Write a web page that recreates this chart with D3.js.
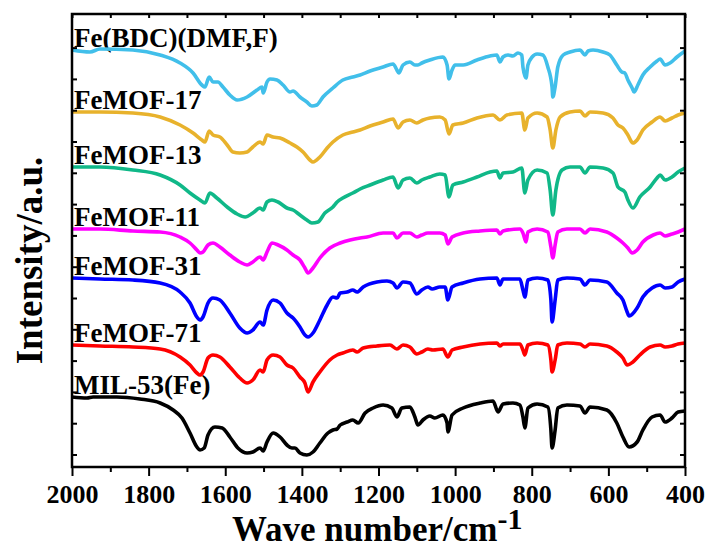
<!DOCTYPE html>
<meta charset="utf-8">
<script src="https://d3js.org/d3.v7.min.js"></script>
<style>
  body { margin: 0; background: #fff; }
  text { font-family: "Liberation Serif", "Times New Roman", serif; font-weight: bold; }
</style>
<svg id="chart" width="712" height="549"></svg>

<script>
  const width = 712;
  const height = 549;
  const margin = { top: 14, right: 27, bottom: 82, left: 72 };

  // IR spectra, [wave number (cm-1), intensity (a.u., stacked)]
  const feBDC = [[2000,41.7],[1953,41.5],[1927,41.8],[1841,41.7],[1770,41.2],[1718,40.4],[1684,39.4],[1661,38.2],[1653,38.0],[1642,39.0],[1632,38.5],[1619,38.5],[1606,38.0],[1588,37.2],[1569,36.7],[1543,37.0],[1517,37.7],[1504,38.0],[1501,37.4],[1491,38.5],[1483,38.8],[1465,38.7],[1449,38.2],[1431,37.5],[1423,37.6],[1405,37.0],[1387,36.5],[1374,36.1],[1361,36.2],[1345,37.0],[1319,37.9],[1293,38.7],[1267,39.0],[1248,39.2],[1222,39.6],[1188,40.0],[1162,40.3],[1152,39.7],[1147,39.4],[1136,40.2],[1118,40.5],[1105,40.2],[1097,40.2],[1087,40.4],[1066,40.7],[1032,41.0],[1021,40.2],[1016,38.8],[1008,39.7],[1000,40.2],[979,40.2],[943,40.7],[909,41.1],[891,41.2],[883,40.5],[875,41.0],[862,41.2],[849,41.1],[836,41.4],[826,41.2],[823,40.0],[815,38.9],[810,40.2],[799,41.0],[786,41.3],[771,41.2],[758,40.0],[747,38.0],[745,37.0],[739,38.0],[732,40.0],[718,41.2],[700,41.5],[674,41.7],[661,41.2],[653,41.6],[640,41.7],[614,41.5],[596,41.2],[578,40.2],[565,39.5],[557,39.4],[549,38.7],[538,37.9],[533,37.5],[523,38.2],[510,39.2],[491,40.0],[473,40.6],[465,40.8],[452,40.2],[439,40.4],[421,41.0],[400,41.6]];

  const feMOF17 = [[2000,35.5],[1927,35.5],[1841,35.4],[1770,35.0],[1718,34.2],[1684,33.4],[1661,32.7],[1653,32.5],[1642,33.6],[1632,33.2],[1614,33.0],[1595,32.2],[1580,31.5],[1562,31.4],[1543,31.5],[1528,32.0],[1509,32.5],[1501,32.3],[1491,33.2],[1475,33.0],[1457,32.9],[1431,32.4],[1413,32.0],[1397,31.5],[1379,30.7],[1371,30.5],[1353,31.0],[1334,31.9],[1319,32.5],[1293,33.2],[1267,33.5],[1248,33.7],[1222,34.1],[1188,34.5],[1162,34.8],[1149,33.9],[1136,34.5],[1118,34.7],[1100,34.4],[1084,34.7],[1066,34.9],[1040,35.0],[1026,34.7],[1016,33.3],[1006,34.2],[979,34.4],[943,34.9],[901,35.2],[883,34.7],[865,35.2],[826,35.4],[818,33.7],[810,34.9],[786,35.4],[760,35.0],[752,33.7],[745,31.9],[737,33.7],[726,35.0],[700,35.5],[674,35.6],[661,35.1],[648,35.5],[614,35.4],[588,34.9],[575,34.2],[562,33.9],[549,33.2],[536,32.4],[525,32.7],[510,33.7],[486,34.5],[465,35.0],[452,34.6],[434,34.9],[418,35.2],[400,35.4]];

  const feMOF13 = [[2000,30.0],[1927,30.0],[1841,29.7],[1770,29.2],[1718,28.2],[1692,27.4],[1666,26.7],[1653,26.4],[1640,27.4],[1622,26.9],[1595,26.0],[1569,25.3],[1548,25.0],[1528,25.4],[1509,25.9],[1501,25.7],[1491,26.5],[1478,26.7],[1462,26.5],[1439,25.9],[1423,25.7],[1405,25.2],[1387,24.7],[1374,24.4],[1358,24.5],[1340,25.4],[1319,26.0],[1308,26.5],[1293,26.9],[1267,27.4],[1248,27.8],[1222,28.2],[1188,28.7],[1162,29.0],[1149,27.9],[1136,28.7],[1118,28.9],[1100,28.4],[1087,28.7],[1066,29.0],[1040,29.3],[1026,29.2],[1016,27.0],[1006,28.2],[979,28.5],[943,29.0],[909,29.5],[891,29.6],[883,28.9],[875,29.4],[849,29.5],[826,29.9],[818,27.4],[810,28.7],[786,29.7],[760,29.4],[752,27.7],[745,25.2],[737,27.7],[721,29.7],[700,30.0],[674,30.0],[661,29.4],[648,30.0],[614,29.9],[588,29.4],[575,28.0],[557,27.5],[549,26.7],[536,25.9],[518,27.0],[491,28.0],[473,28.9],[465,29.2],[452,28.7],[434,29.0],[418,29.5],[400,29.9]];

  const feMOF11 = [[2000,23.8],[1927,23.8],[1841,23.6],[1770,23.5],[1718,23.0],[1692,22.4],[1674,21.7],[1666,21.4],[1658,21.5],[1645,22.2],[1632,22.4],[1614,22.0],[1588,21.2],[1562,20.5],[1543,20.2],[1528,20.5],[1509,21.0],[1501,20.7],[1491,21.5],[1478,22.4],[1462,22.2],[1439,21.7],[1423,21.2],[1405,20.7],[1392,19.9],[1384,19.4],[1371,19.9],[1353,20.9],[1327,21.9],[1300,22.4],[1274,22.7],[1248,22.9],[1230,23.0],[1188,23.4],[1162,23.4],[1152,22.9],[1136,23.4],[1118,23.4],[1100,23.0],[1087,23.2],[1071,23.4],[1040,23.4],[1026,23.2],[1019,22.3],[1008,23.0],[979,23.4],[935,23.6],[891,23.7],[883,23.3],[875,23.6],[831,23.8],[823,23.4],[815,22.5],[810,23.5],[786,23.8],[758,23.5],[750,22.0],[745,20.9],[739,22.2],[732,23.5],[708,23.8],[674,23.8],[661,23.4],[648,23.8],[604,23.5],[578,22.9],[562,22.4],[549,21.9],[538,21.4],[525,21.7],[510,22.5],[483,23.2],[465,23.4],[452,23.1],[434,23.3],[418,23.5],[400,23.8]];

  const feMOF31 = [[2000,18.9],[1927,18.8],[1841,18.7],[1770,18.4],[1718,17.5],[1692,16.4],[1674,15.0],[1666,14.7],[1658,15.0],[1645,16.4],[1632,16.9],[1614,16.7],[1588,15.4],[1562,13.9],[1543,13.4],[1528,13.7],[1509,14.5],[1501,14.2],[1491,15.7],[1475,16.7],[1457,16.4],[1439,15.4],[1423,14.9],[1405,14.0],[1392,13.2],[1384,13.0],[1371,13.4],[1353,14.7],[1334,16.2],[1319,17.0],[1308,16.9],[1300,17.4],[1282,17.5],[1267,17.7],[1256,17.5],[1240,18.0],[1204,18.5],[1178,18.6],[1162,18.4],[1152,17.9],[1136,18.5],[1118,18.4],[1100,17.3],[1087,17.7],[1071,18.0],[1060,17.8],[1040,18.0],[1026,18.0],[1019,16.7],[1008,18.0],[979,18.4],[935,18.8],[891,18.9],[883,18.2],[875,18.8],[831,18.8],[823,17.7],[818,17.0],[810,18.7],[786,18.9],[758,18.7],[750,16.7],[747,14.5],[739,16.7],[732,18.7],[708,18.9],[674,18.8],[661,18.2],[648,18.7],[604,18.5],[578,17.4],[562,16.7],[551,15.5],[546,15.1],[525,15.9],[510,17.0],[486,17.9],[465,18.2],[452,17.9],[434,18.0],[418,18.5],[400,18.8]];

  const feMOF71 = [[2000,12.2],[1927,12.1],[1841,12.0],[1770,11.8],[1718,11.0],[1692,10.2],[1674,9.4],[1666,9.2],[1658,9.5],[1645,10.9],[1632,11.2],[1614,11.0],[1588,10.0],[1562,8.9],[1543,8.4],[1528,8.7],[1509,9.7],[1501,9.5],[1491,10.7],[1475,11.2],[1457,11.0],[1439,10.2],[1423,9.9],[1405,9.0],[1392,8.4],[1384,7.5],[1371,8.5],[1353,9.5],[1327,10.7],[1308,11.2],[1293,11.4],[1267,11.7],[1256,11.5],[1240,11.9],[1204,12.1],[1170,12.2],[1152,11.8],[1136,12.2],[1118,12.0],[1100,11.3],[1087,11.5],[1071,11.8],[1058,11.7],[1032,11.8],[1019,11.0],[1008,11.7],[979,12.0],[935,12.3],[891,12.4],[883,12.1],[875,12.3],[831,12.3],[823,11.7],[818,11.2],[810,12.2],[786,12.4],[758,12.2],[750,10.7],[747,9.5],[739,10.7],[732,12.2],[708,12.4],[674,12.3],[661,12.0],[648,12.3],[604,12.1],[578,11.5],[562,10.9],[551,10.2],[536,10.5],[518,11.2],[491,12.0],[465,12.2],[452,12.0],[434,12.1],[418,12.3],[400,12.4]];

  const mil53 = [[2000,7.0],[1961,6.9],[1945,7.0],[1883,7.0],[1823,6.8],[1770,6.4],[1736,5.7],[1713,4.9],[1692,3.4],[1674,2.0],[1666,1.7],[1655,1.9],[1645,3.2],[1627,4.0],[1608,3.9],[1588,3.0],[1567,1.9],[1543,1.4],[1528,1.5],[1509,1.9],[1501,1.6],[1491,2.5],[1475,3.4],[1457,3.0],[1439,2.2],[1426,1.9],[1418,1.9],[1405,1.4],[1387,1.2],[1371,1.5],[1353,2.4],[1332,3.4],[1319,3.7],[1308,3.8],[1300,4.2],[1282,4.5],[1267,4.7],[1253,4.4],[1235,5.4],[1214,5.9],[1188,6.2],[1165,5.9],[1152,5.0],[1139,5.9],[1118,6.0],[1105,5.0],[1097,4.2],[1084,4.7],[1066,5.1],[1053,4.9],[1032,5.2],[1021,4.4],[1019,3.5],[1008,5.2],[979,5.9],[935,6.4],[901,6.6],[888,5.5],[875,6.3],[849,6.4],[831,6.2],[823,5.0],[818,3.9],[810,5.9],[786,6.3],[758,6.0],[750,3.7],[747,1.9],[739,3.7],[732,5.9],[708,6.2],[674,6.1],[661,5.4],[648,6.0],[604,5.7],[578,4.4],[562,3.0],[546,2.0],[525,2.5],[510,3.7],[486,5.0],[465,5.2],[452,4.5],[434,4.9],[418,5.5],[400,5.6]];

  const seriesNames = ["Fe(BDC)(DMF,F)", "FeMOF-17", "FeMOF-13", "FeMOF-11", "FeMOF-31", "FeMOF-71", "MIL-53(Fe)"];
  const seriesData = [feBDC, feMOF17, feMOF13, feMOF11, feMOF31, feMOF71, mil53];
  const seriesColors = ["#41bfea", "#e8b22c", "#10b888", "#ff00ff", "#0000ff", "#ff0000", "#000000"];

  const xMajorTicks = [2000, 1800, 1600, 1400, 1200, 1000, 800, 600, 400];
  const xMinorTicks = [1900, 1700, 1500, 1300, 1100, 900, 700, 500];

  const svg = d3.select("#chart");

  const x = d3.scaleLinear()
    .domain([2000, 400])
    .range([margin.left, width - margin.right]);

  const y = d3.scaleLinear()
    .domain([0, 45.3])
    .range([height - margin.bottom, margin.top]);

  const yTicks = d3.range(1.25, 44, 3.13);
  const bottomY = height - margin.bottom;

  // sample labels (drawn under the curves)
  svg.append("g")
    .selectAll("text")
    .data(seriesNames)
    .join("text")
    .attr("x", margin.left + 2)
    .attr("y", (d, i) => y(seriesData[i][0][1]) - 3)
    .attr("font-size", 27)
    .text(d => d);

  // spectra
  const line = d3.line()
    .x(d => x(d[0]))
    .y(d => y(d[1]))
    .curve(d3.curveMonotoneX);

  svg.append("g")
    .selectAll("path")
    .data(seriesData)
    .join("path")
    .attr("d", line)
    .attr("fill", "none")
    .attr("stroke", (d, i) => seriesColors[i])
    .attr("stroke-width", 3.6)
    .attr("stroke-linejoin", "round");

  // axes
  const xAxis = svg.append("g")
    .attr("transform", `translate(0,${bottomY})`)
    .call(d3.axisBottom(x).tickValues(xMajorTicks).tickSize(9).tickPadding(9).tickFormat(d3.format("d")));
  xAxis.selectAll("text").attr("font-size", 26).attr("fill", "#000")
    .style("font-family", '"Liberation Serif", serif').style("font-weight", "bold");

  svg.append("g")
    .attr("transform", `translate(0,${bottomY})`)
    .call(d3.axisBottom(x).tickValues(xMinorTicks).tickSize(5).tickFormat(""));

  svg.append("g")
    .attr("transform", `translate(0,${margin.top})`)
    .call(d3.axisTop(x).tickValues(xMajorTicks.concat(xMinorTicks)).tickSize(-4).tickFormat(""));

  svg.append("g")
    .attr("transform", `translate(${margin.left},0)`)
    .call(d3.axisLeft(y).tickValues(yTicks).tickSize(-5).tickFormat(""));

  svg.append("g")
    .attr("transform", `translate(${width - margin.right},0)`)
    .call(d3.axisRight(y).tickValues(yTicks).tickSize(-5).tickFormat(""));

  svg.selectAll(".domain").remove();
  svg.selectAll(".tick line").attr("stroke", "#000").attr("stroke-width", 2);

  svg.append("rect")
    .attr("x", margin.left)
    .attr("y", margin.top)
    .attr("width", width - margin.left - margin.right)
    .attr("height", bottomY - margin.top)
    .attr("fill", "none")
    .attr("stroke", "#000")
    .attr("stroke-width", 2.5);

  // axis titles
  svg.append("text")
    .attr("transform", `translate(42,${(margin.top + bottomY) / 2 + 20}) rotate(-90)`)
    .attr("text-anchor", "middle")
    .attr("font-size", 37)
    .text("Intensity/a.u.");

  const xTitle = svg.append("text")
    .attr("x", 232)
    .attr("y", 541)
    .attr("font-size", 35);
  xTitle.append("tspan").text("Wave number/cm");
  xTitle.append("tspan").attr("dy", -12).attr("font-size", 30).text("-1");
</script>
